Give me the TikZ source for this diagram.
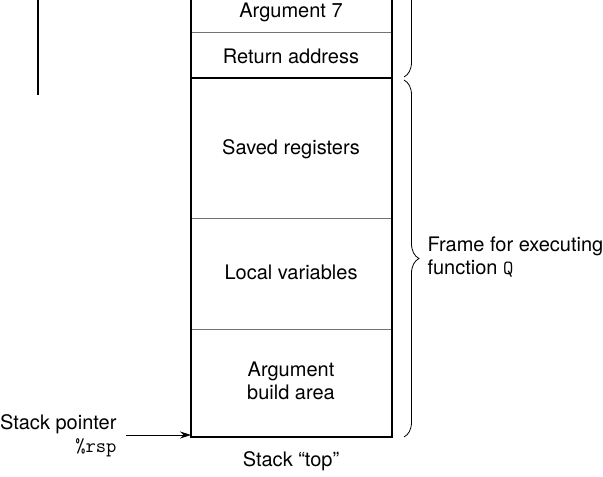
\documentclass[tikz,border=0pt]{standalone}
\usepackage{fontspec}
\setmainfont{TeX Gyre Heros}
\usetikzlibrary{arrows.meta,decorations.pathreplacing}
\begin{document}
\begin{tikzpicture}[x=1pt,y=-1pt,font=\fontsize{20}{23}\selectfont,
  sep/.style={draw=black!55,line width=0.8pt},
  wall/.style={line width=2.5pt},
  framebrace/.style={draw,line width=0.8pt,decorate,decoration={brace,amplitude=15pt}}]
\useasboundingbox (0,0) rectangle (603,477);
\clip (0,0) rectangle (603,477);
% stack cells
\draw [sep] (191,32)--(392,32);
\draw [wall] (191,78)--(392,78);
\draw [sep] (191,218)--(392,218);
\draw [sep] (191,329)--(392,329);
\draw [wall] (191,-10)--(191,437)--(392,437)--(392,-10);
\draw [line width=1.3pt] (38,-5)--(38,95);
\node (arg7) at (291,12) {Argument 7};
\node (ret) at (291,56) {Return address};
\node (saved) at (291,149) {Saved registers};
\node (local) at (291,272) {Local variables};
\node (build) [align=center] at (291,381) {Argument\\build area};
\node (top) at (291,461) {Stack ``top''};
% braces
\draw [framebrace] (404,-120)--(404,77);
\draw [framebrace] (404,80)--(404,437);
\node (frame) [anchor=west,align=left] at (424,257) {Frame for executing\\function \texttt{Q}};
% stack pointer
\node (sp) [anchor=east,align=right] at (120,436) {Stack pointer\\\texttt{\%rsp}};
\coordinate (bot) at (191,435);
\draw [-{Stealth[length=11pt,width=7pt]},line width=0.8pt,shorten <=6pt] (sp.east|-bot)--(bot);
\end{tikzpicture}
\end{document}
